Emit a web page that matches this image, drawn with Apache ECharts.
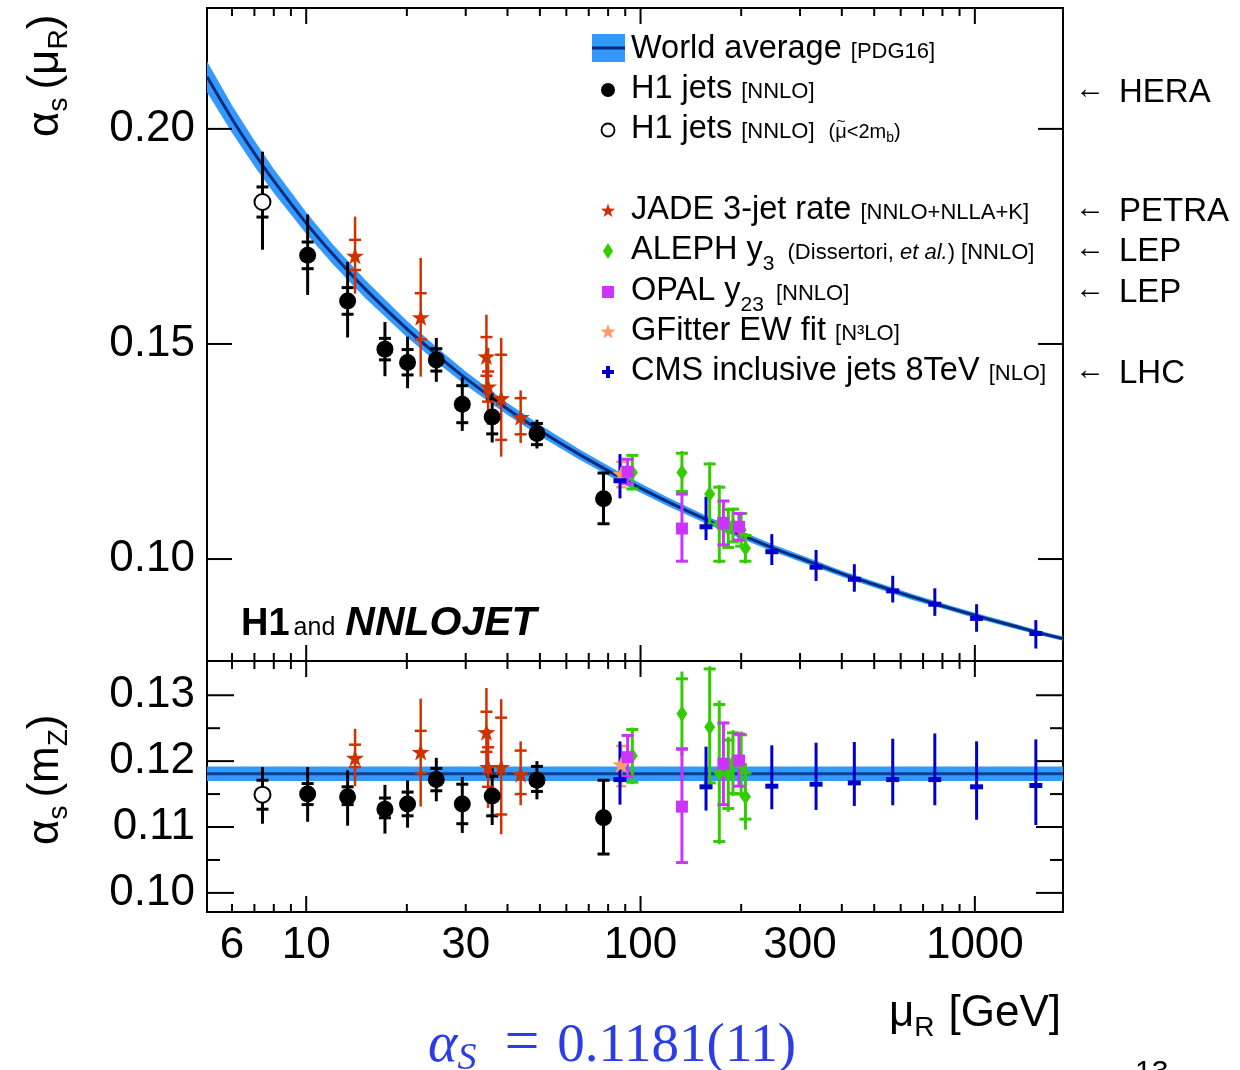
<!DOCTYPE html>
<html>
<head>
<meta charset="utf-8">
<title>Running strong coupling</title>
<script src="https://cdn.jsdelivr.net/npm/echarts@6/dist/echarts.min.js"></script>
<style>
  html, body { margin: 0; padding: 0; background: #ffffff; }
  #chart { width: 1240px; height: 1070px; }
</style>
</head>
<body>
<div id="chart"></div>
<script>
// ---------------------------------------------------------------------------
// Axis ranges: renormalisation scale in GeV (log), alpha_s in both panels
// ---------------------------------------------------------------------------
const muMin = 5.05, muMax = 1835;
const topRange = [0.0763, 0.2281];
const botRange = [0.0971, 0.1352];

// Tick marks and tick labels
const xMajorTicks = [10, 100, 1000];
const xMinorTicks = [6, 7, 8, 9, 20, 30, 40, 50, 60, 70, 80, 90, 200, 300, 400, 500, 600, 700, 800, 900];
const xTickLabels = [6, 10, 30, 100, 300, 1000];
const yTopTicks = [0.10, 0.15, 0.20];
const yTopLabels = ['0.10', '0.15', '0.20'];
const yBotMajor = [0.10, 0.11, 0.12, 0.13];
const yBotLabels = ['0.10', '0.11', '0.12', '0.13'];
const yBotMinor = [0.105, 0.115, 0.125];

// World average (PDG16): running alpha_s(mu) with its uncertainty band
const waMu    = [5.05, 6, 7, 8, 10, 12, 15, 20, 25, 30, 40, 50, 65, 91.19, 120, 160, 200, 250, 320, 400, 500, 650, 800, 1000, 1300, 1600, 1835];
const waAlpha = [0.2121, 0.2023, 0.1943, 0.1879, 0.1781, 0.1709, 0.1628, 0.1535, 0.1470, 0.1420, 0.1349, 0.1299, 0.1245, 0.1181, 0.1134, 0.1089, 0.1056, 0.1025, 0.0994, 0.0966, 0.0941, 0.0912, 0.0891, 0.0869, 0.0845, 0.0826, 0.0815];
const waHalf  = [0.0036, 0.0032, 0.0030, 0.0028, 0.0025, 0.0023, 0.0021, 0.0019, 0.0017, 0.0016, 0.0014, 0.0013, 0.0012, 0.0011, 0.0010, 0.0009, 0.0009, 0.0008, 0.0008, 0.0007, 0.0007, 0.0007, 0.0006, 0.0006, 0.0006, 0.0005, 0.0005];
const waMZ = 0.1181, waMZerr = 0.0011;

// Error lists: [inner down, inner up, outer down, outer up]
// H1 jets [NNLO]
const h1Mu     = [10.1, 13.3, 17.2, 20.1, 24.5, 29.3, 36.0, 49.0, 77.5];
const h1Top    = [0.1706, 0.1600, 0.1488, 0.1457, 0.1463, 0.1360, 0.1330, 0.1292, 0.1140];
const h1TopErr = [[0.0031,0.0031,0.0092,0.0095],[0.0031,0.0031,0.0085,0.0091],[0.0025,0.0025,0.0063,0.0063],[0.0029,0.0030,0.0060,0.0060],[0.0026,0.0026,0.0051,0.0051],[0.0043,0.0043,0.0062,0.0062],[0.0039,0.0041,0.0059,0.0057],[0.0026,0.0023,0.0035,0.0032],[0.0058,0.0060,0.0058,0.0060]];
const h1Bot    = [0.1150, 0.1146, 0.1127, 0.1135, 0.1172, 0.1135, 0.1147, 0.1171, 0.1114];
const h1BotErr = [[0.0016,0.0016,0.0042,0.0041],[0.0012,0.0015,0.0044,0.0040],[0.0013,0.0017,0.0037,0.0037],[0.0018,0.0018,0.0036,0.0036],[0.0017,0.0017,0.0033,0.0033],[0.0030,0.0030,0.0044,0.0041],[0.0030,0.0030,0.0044,0.0044],[0.0017,0.0021,0.0029,0.0029],[0.0055,0.0057,0.0055,0.0057]];
// H1 jets, mu < 2 m_b
const h1lowMu     = [7.4];
const h1lowTop    = [0.1830];
const h1lowTopErr = [[0.0035,0.0035,0.0111,0.0117]];
const h1lowBot    = [0.1149];
const h1lowBotErr = [[0.0022,0.0022,0.0044,0.0042]];
// JADE 3-jet rate
const jadeMu     = [14, 22, 34.6, 35.0, 38.3, 43.8];
const jadeTop    = [0.1705, 0.1562, 0.1471, 0.1401, 0.1374, 0.1330];
const jadeTopErr = [[0.0033,0.0037,0.0088,0.0091],[0.0051,0.0056,0.0138,0.0138],[0.0045,0.0045,0.0095,0.0097],[0.0035,0.0035,0.0089,0.0090],[0.0097,0.0101,0.0136,0.0140],[0.0040,0.0044,0.0060,0.0062]];
const jadeBot    = [0.1205, 0.1214, 0.1244, 0.1191, 0.1191, 0.1180];
const jadeBotErr = [[0.0014,0.0020,0.0043,0.0044],[0.0032,0.0032,0.0083,0.0081],[0.0030,0.0031,0.0062,0.0067],[0.0030,0.0030,0.0062,0.0058],[0.0072,0.0075,0.0102,0.0103],[0.0030,0.0036,0.0047,0.0050]];
// GFitter EW fit
const gfMu     = [87.5];
const gfTop    = [0.1198];
const gfTopErr = [[0.0031,0.0028,0.0031,0.0028]];
const gfBot    = [0.1195];
const gfBotErr = [[0.0033,0.0028,0.0033,0.0028]];
// ALEPH y3
const alephMu     = [94.5, 133, 161, 172, 183, 189, 200, 206];
const alephTop    = [0.1201, 0.1201, 0.1151, 0.1081, 0.1071, 0.1078, 0.1068, 0.1025];
const alephTopErr = [[0.0038,0.0040,0.0041,0.0043],[0.0044,0.0045,0.0049,0.0050],[0.0070,0.0070,0.0074,0.0074],[0.0086,0.0086,0.0091,0.0091],[0.0044,0.0044,0.0047,0.0047],[0.0038,0.0038,0.0041,0.0041],[0.0038,0.0038,0.0042,0.0042],[0.0030,0.0030,0.0035,0.0035]];
const alephBot    = [0.1208, 0.1272, 0.1252, 0.1182, 0.1180, 0.1197, 0.1195, 0.1146];
const alephBotErr = [[0.0040,0.0040,0.0043,0.0043],[0.0053,0.0053,0.0064,0.0064],[0.0085,0.0088,0.0088,0.0092],[0.0104,0.0104,0.0108,0.0110],[0.0052,0.0052,0.0057,0.0057],[0.0046,0.0046,0.0050,0.0050],[0.0045,0.0045,0.0050,0.0050],[0.0034,0.0036,0.0050,0.0051]];
// OPAL y23
const opalMu     = [91.5, 133, 177, 197];
const opalTop    = [0.1203, 0.1071, 0.1084, 0.1075];
const opalTopErr = [[0.0027,0.0029,0.0027,0.0029],[0.0076,0.0080,0.0076,0.0080],[0.0051,0.0051,0.0051,0.0051],[0.0031,0.0031,0.0031,0.0031]];
const opalBot    = [0.1206, 0.1131, 0.1196, 0.1201];
const opalBotErr = [[0.0029,0.0033,0.0029,0.0033],[0.0085,0.0087,0.0085,0.0087],[0.0062,0.0062,0.0062,0.0062],[0.0039,0.0040,0.0039,0.0040]];
// CMS inclusive jets 8 TeV
const cmsMu     = [86.8, 157, 247, 335, 436, 568, 759, 1012, 1522];
const cmsTop    = [0.1182, 0.1075, 0.1017, 0.0981, 0.0953, 0.0926, 0.0895, 0.0862, 0.0827];
const cmsTopErr = [[0.0041,0.0062,0.0041,0.0062],[0.0031,0.0070,0.0031,0.0070],[0.0031,0.0041,0.0031,0.0041],[0.0032,0.0040,0.0032,0.0040],[0.0029,0.0035,0.0029,0.0035],[0.0027,0.0035,0.0027,0.0035],[0.0027,0.0037,0.0027,0.0037],[0.0031,0.0033,0.0031,0.0033],[0.0035,0.0031,0.0035,0.0031]];
const cmsBot    = [0.1172, 0.1161, 0.1162, 0.1165, 0.1167, 0.1172, 0.1172, 0.1161, 0.1163];
const cmsBotErr = [[0.0038,0.0058,0.0038,0.0058],[0.0036,0.0061,0.0036,0.0061],[0.0035,0.0062,0.0035,0.0062],[0.0039,0.0063,0.0039,0.0063],[0.0035,0.0062,0.0035,0.0062],[0.0039,0.0062,0.0039,0.0062],[0.0039,0.0070,0.0039,0.0070],[0.0050,0.0069,0.0050,0.0069],[0.0060,0.0070,0.0060,0.0070]];

// ---------------------------------------------------------------------------
// Styling
// ---------------------------------------------------------------------------
const SANS = '"Liberation Sans", Arial, Helvetica, sans-serif';
const SERIF = '"Liberation Serif", "Times New Roman", serif';
const BAND = '#3399ff';
const LINE_DARK = '#072c7c';
const C_H1 = '#000000', C_JADE = '#cc3300', C_ALEPH = '#33cc00', C_OPAL = '#cc33ff', C_GF = '#ff9966', C_CMS = '#0000cc';
const TICK_FONT = 44;

const starPts = [[0,-10],[2.351,-3.236],[9.511,-3.09],[3.804,1.236],[5.878,8.09],[0,4],[-5.878,8.09],[-3.804,1.236],[-9.511,-3.09],[-2.351,-3.236]];
const starSymbol = 'path://M' + starPts.map(p => p.join(',')).join('L') + 'Z';

// rows: [mu, value, innerLo, innerHi, outerLo, outerHi]
function rows(mu, val, err) {
  return mu.map((m, i) => [m, val[i], val[i] - err[i][0], val[i] + err[i][1], val[i] - err[i][2], val[i] + err[i][3]]);
}

function errSeries(gi, data, color, lw, half) {
  return {
    type: 'custom', xAxisIndex: gi, yAxisIndex: gi, z: 3, silent: true, clip: false,
    encode: { x: 0, y: 1 }, data: data,
    renderItem: function (params, api) {
      const mu = api.value(0);
      const oLo = api.coord([mu, api.value(4)]), oHi = api.coord([mu, api.value(5)]);
      const iLo = api.coord([mu, api.value(2)]), iHi = api.coord([mu, api.value(3)]);
      const x = oLo[0];
      const ch = [{ type: 'line', shape: { x1: x, y1: oLo[1], x2: x, y2: oHi[1] }, style: { stroke: color, lineWidth: lw } }];
      if (half > 0) {
        [iLo, iHi].forEach(p => ch.push({ type: 'line', shape: { x1: x - half, y1: p[1], x2: x + half, y2: p[1] }, style: { stroke: color, lineWidth: lw } }));
      }
      return { type: 'group', children: ch };
    }
  };
}

function markSeries(gi, data, symbol, size, itemStyle) {
  return {
    type: 'scatter', xAxisIndex: gi, yAxisIndex: gi, z: 3, silent: true,
    symbol: symbol, symbolSize: size, itemStyle: Object.assign({ opacity: 1 }, itemStyle),
    emphasis: { disabled: true },
    data: data.map(r => [r[0], r[1]])
  };
}

function seg(ch, x1, y1, x2, y2, w) {
  ch.push({ type: 'line', shape: { x1, y1, x2, y2 }, style: { stroke: '#000', lineWidth: w || 2 } });
}

// Inner ticks on all four sides of a panel, plus tick labels
function frameSeries(gi, yr, yMajor, yMajorLab, yMajorLen, yMinor, yMinorLen, withXLabels) {
  return {
    type: 'custom', xAxisIndex: gi, yAxisIndex: gi, z: 6, silent: true, clip: false,
    data: [[10, (yr[0] + yr[1]) / 2]],
    renderItem: function (params, api) {
      const ch = [];
      const L = api.coord([muMin, yr[0]])[0], R = api.coord([muMax, yr[0]])[0];
      const T = api.coord([muMin, yr[1]])[1], B = api.coord([muMin, yr[0]])[1];
      xMajorTicks.forEach(m => { const x = api.coord([m, yr[0]])[0]; seg(ch, x, T, x, T + 16); seg(ch, x, B, x, B - 16); });
      xMinorTicks.forEach(m => { const x = api.coord([m, yr[0]])[0]; seg(ch, x, T, x, T + 8); seg(ch, x, B, x, B - 8); });
      yMajor.forEach((v, i) => {
        const y = api.coord([muMin, v])[1];
        seg(ch, L, y, L + yMajorLen, y); seg(ch, R, y, R - yMajorLen, y);
        ch.push({ type: 'text', x: L - 12, y: y, style: { text: yMajorLab[i], font: TICK_FONT + 'px ' + SANS, fill: '#000', align: 'right', verticalAlign: 'middle', textAlign: 'right', textVerticalAlign: 'middle' } });
      });
      yMinor.forEach(v => { const y = api.coord([muMin, v])[1]; seg(ch, L, y, L + yMinorLen, y); seg(ch, R, y, R - yMinorLen, y); });
      if (withXLabels) {
        xTickLabels.forEach(m => {
          const x = api.coord([m, yr[0]])[0];
          ch.push({ type: 'text', x: x, y: B + 34, style: { text: String(m), font: TICK_FONT + 'px ' + SANS, fill: '#000', align: 'center', verticalAlign: 'middle', textAlign: 'center', textVerticalAlign: 'middle' } });
        });
      }
      return { type: 'group', children: ch };
    }
  };
}

// ---------------------------------------------------------------------------
// Text runs with mixed sizes on a common baseline
// ---------------------------------------------------------------------------
const meas = document.createElement('canvas').getContext('2d');
function textRun(x0, base, parts, color) {
  const els = [];
  let x = x0;
  parts.forEach(p => {
    const family = p.family || SANS;
    const font = (p.italic ? 'italic ' : '') + (p.bold ? 'bold ' : '') + p.size + 'px ' + family;
    meas.font = font;
    const start = x;
    x += (p.dx || 0);
    const w = meas.measureText(p.t).width;
    els.push({
      type: 'text', silent: true, x: x, y: base + (p.dy || 0) - 0.25 * p.size,
      style: { text: p.t, font: font, fill: p.color || color || '#000', align: 'left', verticalAlign: 'middle', textAlign: 'left', textVerticalAlign: 'middle' }
    });
    x += w;
    if (p.overlay) x = start;   // accent drawn over the previous glyph
  });
  return els;
}

function starPolygon(cx, cy, s, fill) {
  return { type: 'polygon', silent: true, shape: { points: starPts.map(p => [cx + p[0] * s, cy + p[1] * s]) }, style: { fill: fill } };
}

// ---------------------------------------------------------------------------
// Legend, annotations and titles
// ---------------------------------------------------------------------------
const LX = 608, TX = 631, LF = 32.5, BF = 22;
const graphics = [];
// world average swatch
graphics.push({ type: 'rect', silent: true, shape: { x: 592, y: 34, width: 33, height: 28 }, style: { fill: BAND } });
graphics.push({ type: 'line', silent: true, shape: { x1: 592, y1: 48, x2: 625, y2: 48 }, style: { stroke: LINE_DARK, lineWidth: 3 } });
graphics.push(...textRun(TX, 57, [{ t: 'World average ', size: LF }, { t: '[PDG16]', size: BF }]));
// H1 jets
graphics.push({ type: 'circle', silent: true, shape: { cx: LX, cy: 90, r: 7 }, style: { fill: C_H1 } });
graphics.push(...textRun(TX, 97, [{ t: 'H1 jets ', size: LF }, { t: '[NNLO]', size: BF }]));
graphics.push({ type: 'circle', silent: true, shape: { cx: LX, cy: 130, r: 6.5 }, style: { fill: '#fff', stroke: '#000', lineWidth: 1.8 } });
graphics.push(...textRun(TX, 137, [
  { t: 'H1 jets ', size: LF }, { t: '[NNLO]', size: BF },
  { t: '(', size: 20, dx: 14 }, { t: '\u03bc', size: 20 },
  { t: '~', size: 15, dx: -10, dy: -11, overlay: true },
  { t: '<2m', size: 20 }, { t: 'b', size: 14, dy: 5 }, { t: ')', size: 20 }
]));
// JADE
graphics.push(starPolygon(LX, 211, 0.75, C_JADE));
graphics.push(...textRun(TX, 218, [{ t: 'JADE 3-jet rate ', size: LF }, { t: '[NNLO+NLLA+K]', size: BF }]));
// ALEPH
graphics.push({ type: 'polygon', silent: true, shape: { points: [[LX, 243], [LX + 5, 251], [LX, 259], [LX - 5, 251]] }, style: { fill: C_ALEPH } });
graphics.push(...textRun(TX, 258, [{ t: 'ALEPH y', size: LF }, { t: '3', size: 21, dy: 11 }, { t: '(Dissertori, ', size: BF, dx: 13 }, { t: 'et al.', size: BF, italic: true }, { t: ') [NNLO]', size: BF }]));
// OPAL
graphics.push({ type: 'rect', silent: true, shape: { x: LX - 6, y: 286, width: 12, height: 12 }, style: { fill: C_OPAL } });
graphics.push(...textRun(TX, 299, [{ t: 'OPAL y', size: LF }, { t: '23', size: 21, dy: 11 }, { t: '[NNLO]', size: BF, dx: 12 }]));
// GFitter
graphics.push(starPolygon(LX, 332, 0.8, C_GF));
graphics.push(...textRun(TX, 339, [{ t: 'GFitter EW fit ', size: LF }, { t: '[N\u00b3LO]', size: BF }]));
// CMS
graphics.push({ type: 'rect', silent: true, shape: { x: LX - 6, y: 370, width: 12, height: 4 }, style: { fill: C_CMS } });
graphics.push({ type: 'rect', silent: true, shape: { x: LX - 2, y: 366, width: 4, height: 12 }, style: { fill: C_CMS } });
graphics.push(...textRun(TX, 379, [{ t: 'CMS inclusive jets 8TeV ', size: LF }, { t: '[NLO]', size: BF }]));

// experiment annotations on the right
[['HERA', 101], ['PETRA', 220], ['LEP', 260], ['LEP', 301], ['LHC', 382]].forEach(a => {
  graphics.push(...textRun(1075, a[1], [{ t: '\u2190', size: 30, dy: -4 }, { t: a[0], size: 33, dx: 14 }]));
});

// H1 and NNLOJET
graphics.push(...textRun(241, 634, [{ t: 'H1', size: 38, bold: true }, { t: 'and', size: 25, dx: 4 }, { t: 'NNLOJET', size: 41, bold: true, italic: true, dx: 10 }]));

// x-axis title
graphics.push(...textRun(889, 1025, [{ t: '\u03bc', size: 44 }, { t: 'R', size: 28, dy: 10 }, { t: '[GeV]', size: 44, dx: 14 }]));

// y-axis titles (rotated)
graphics.push({ type: 'group', x: 57, y: 137, rotation: Math.PI / 2, children: textRun(0, 0, [{ t: '\u03b1', size: 44 }, { t: 's', size: 28, dy: 9 }, { t: '(', size: 44, dx: 8 }, { t: '\u03bc', size: 44 }, { t: 'R', size: 28, dy: 9 }, { t: ')', size: 44 }]) });
graphics.push({ type: 'group', x: 57, y: 845, rotation: Math.PI / 2, children: textRun(0, 0, [{ t: '\u03b1', size: 44 }, { t: 's', size: 28, dy: 9 }, { t: '(', size: 44, dx: 8 }, { t: 'm', size: 44 }, { t: 'Z', size: 28, dy: 9 }, { t: ')', size: 44 }]) });

// world-average value below the plot
const BLUE_TXT = '#2a3de6';
graphics.push(...textRun(428, 1060, [
  { t: '\u03b1', size: 56, italic: true, family: SERIF },
  { t: 'S', size: 38, italic: true, dy: 9, family: SERIF },
  { t: '=', size: 62, dx: 28, family: SERIF },
  { t: '0.1181(11)', size: 55, dx: 18, family: SERIF }
], BLUE_TXT));

// page number, cut by the lower edge
graphics.push(...textRun(1135, 1080, [{ t: '13', size: 30 }]));

// ---------------------------------------------------------------------------
// Chart
// ---------------------------------------------------------------------------
const series = [
  // top panel: world-average band and central line
  {
    type: 'custom', xAxisIndex: 0, yAxisIndex: 0, z: 1, silent: true, clip: true, data: [[10, 0.15]],
    renderItem: function (params, api) {
      const up = waMu.map((m, i) => api.coord([m, waAlpha[i] + waHalf[i]]));
      const dn = waMu.map((m, i) => api.coord([m, waAlpha[i] - waHalf[i]])).reverse();
      return { type: 'polygon', shape: { points: up.concat(dn) }, style: { fill: BAND } };
    }
  },
  {
    type: 'line', xAxisIndex: 0, yAxisIndex: 0, z: 2, silent: true, smooth: 0.3, showSymbol: false,
    lineStyle: { color: LINE_DARK, width: 3 },
    data: waMu.map((m, i) => [m, waAlpha[i]])
  },
  // bottom panel: constant world-average band
  {
    type: 'custom', xAxisIndex: 1, yAxisIndex: 1, z: 1, silent: true, clip: true, data: [[10, waMZ]],
    renderItem: function (params, api) {
      const a = api.coord([muMin, waMZ + waMZerr]), b = api.coord([muMax, waMZ - waMZerr]);
      const c1 = api.coord([muMin, waMZ]), c2 = api.coord([muMax, waMZ]);
      return { type: 'group', children: [
        { type: 'rect', shape: { x: a[0], y: a[1], width: b[0] - a[0], height: b[1] - a[1] }, style: { fill: BAND } },
        { type: 'line', shape: { x1: c1[0], y1: c1[1], x2: c2[0], y2: c2[1] }, style: { stroke: '#0f3f92', lineWidth: 3 } }
      ] };
    }
  }
];

[[0, [h1Top, h1TopErr], [h1lowTop, h1lowTopErr], [jadeTop, jadeTopErr], [gfTop, gfTopErr], [alephTop, alephTopErr], [opalTop, opalTopErr], [cmsTop, cmsTopErr]],
 [1, [h1Bot, h1BotErr], [h1lowBot, h1lowBotErr], [jadeBot, jadeBotErr], [gfBot, gfBotErr], [alephBot, alephBotErr], [opalBot, opalBotErr], [cmsBot, cmsBotErr]]]
.forEach(p => {
  const gi = p[0];
  const h1 = rows(h1Mu, p[1][0], p[1][1]);
  const h1l = rows(h1lowMu, p[2][0], p[2][1]);
  const jd = rows(jadeMu, p[3][0], p[3][1]);
  const gf = rows(gfMu, p[4][0], p[4][1]);
  const al = rows(alephMu, p[5][0], p[5][1]);
  const op = rows(opalMu, p[6][0], p[6][1]);
  const cm = rows(cmsMu, p[7][0], p[7][1]);
  series.push(errSeries(gi, h1, C_H1, 3, 6));
  series.push(markSeries(gi, h1, 'circle', 17, { color: C_H1 }));
  series.push(errSeries(gi, h1l, C_H1, 3, 6));
  series.push(markSeries(gi, h1l, 'circle', 16, { color: '#ffffff', borderColor: '#000', borderWidth: 2 }));
  series.push(errSeries(gi, jd, C_JADE, 2.5, 6));
  series.push(markSeries(gi, jd, starSymbol, [18, 17], { color: C_JADE }));
  series.push(errSeries(gi, gf, C_GF, 2.5, 5));
  series.push(markSeries(gi, gf, starSymbol, [18, 17], { color: C_GF }));
  series.push(errSeries(gi, al, C_ALEPH, 3, 6));
  series.push(markSeries(gi, al, 'diamond', [11, 16], { color: C_ALEPH }));
  series.push(errSeries(gi, op, C_OPAL, 3, 6));
  series.push(markSeries(gi, op, 'rect', 12, { color: C_OPAL }));
  series.push(errSeries(gi, cm, C_CMS, 3, 0));
  series.push(markSeries(gi, cm, 'rect', [13, 5], { color: C_CMS }));
});

series.push(frameSeries(0, topRange, yTopTicks, yTopLabels, 25, [], 0, false));
series.push(frameSeries(1, botRange, yBotMajor, yBotLabels, 27, yBotMinor, 13, true));

const chart = echarts.init(document.getElementById('chart'), null, { renderer: 'canvas' });
chart.setOption({
  animation: false,
  backgroundColor: '#ffffff',
  grid: [
    { left: 207, top: 8, width: 856, height: 653, show: true, borderColor: '#000', borderWidth: 2, backgroundColor: 'transparent' },
    { left: 207, top: 661, width: 856, height: 251, show: true, borderColor: '#000', borderWidth: 2, backgroundColor: 'transparent' }
  ],
  xAxis: [
    { type: 'log', logBase: 10, gridIndex: 0, min: muMin, max: muMax, show: false },
    { type: 'log', logBase: 10, gridIndex: 1, min: muMin, max: muMax, show: false }
  ],
  yAxis: [
    { type: 'value', gridIndex: 0, min: topRange[0], max: topRange[1], show: false, splitLine: { show: false } },
    { type: 'value', gridIndex: 1, min: botRange[0], max: botRange[1], show: false, splitLine: { show: false } }
  ],
  graphic: { elements: graphics },
  series: series
});
</script>
</body>
</html>
